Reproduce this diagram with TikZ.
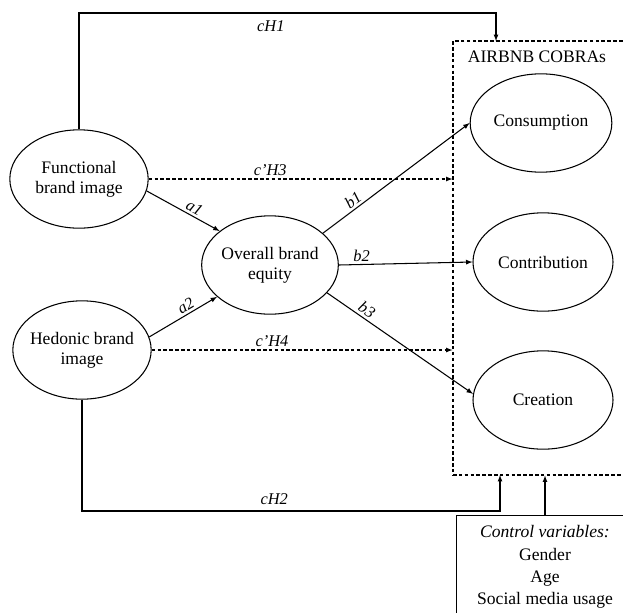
\documentclass[tikz,border=0pt]{standalone}
\usepackage{fontspec}
\setmainfont{Liberation Serif}
\usetikzlibrary{shapes.geometric}
\tikzset{
  construct/.style={draw,ellipse,line width=0.9pt,inner xsep=-4pt,inner ysep=0pt,
    minimum width=4.15cm,minimum height=2.95cm,align=center},
  path/.style={line width=0.9pt,-latex},
  dpath/.style={line width=0.9pt,-latex,dash pattern=on 3pt off 2pt},
  plabel/.style={font=\fontsize{14}{16}\selectfont\itshape,inner sep=2pt}
}
\begin{document}
\begin{tikzpicture}[x=0.03cm,y=-0.03cm,font=\fontsize{15}{17}\selectfont]
\useasboundingbox (0,0) rectangle (623,612);
\clip (0,0) rectangle (623,612);

% constructs
\node[construct] (fbi) at (79,179) {Functional\\brand image};
\node[construct] (hbi) at (82,350) {Hedonic brand\\image};
\node[construct,minimum width=4.1cm] (obe) at (270,265) {Overall brand\\equity};
\node[construct,minimum width=4.25cm] (cons) at (541,123) {Consumption};
\node[construct,minimum width=4.2cm] (contr) at (543,262) {Contribution};
\node[construct,minimum width=4.2cm] (crea) at (543,400) {Creation};

% outcome box and controls
\node[draw,line width=0.9pt,dash pattern=on 3pt off 2pt,minimum width=5.61cm,minimum height=13.02cm] (cobras) at (546.5,258) {};
\node (cobrastitle) at (537,57) {AIRBNB COBRAs};
\node[draw,line width=0.9pt,minimum width=5.3cm,minimum height=3.1cm,align=center,font=\fontsize{15}{19}\selectfont] (ctrl) at (545,567)
  {\textit{Control variables:}\\Gender\\Age\\Social media usage};
\coordinate (h1top) at (0,13);
\coordinate (h1end) at (496,41);
\coordinate (h2bot) at (0,511);
\coordinate (h2end) at (500,475);

% direct effects
\draw[path] (fbi.north) -- (fbi.north |- h1top) -- node[pos=0.46,below=4pt,plabel] (lH1) {cH1} (h1end |- h1top) -- (h1end);
\draw[path] (hbi.south) -- (hbi.south |- h2bot) -- node[pos=0.46,above=3pt,plabel] (lH2) {cH2} (h2end |- h2bot) -- (h2end);
\draw[dpath] (fbi.east) -- node[pos=0.4,above,plabel] (lH3) {c'H3} (fbi.east -| cobras.west);
\draw[dpath] (hbi.east) -- node[pos=0.4,above,plabel] (lH4) {c'H4} (hbi.east -| cobras.west);

% mediation
\draw[path] (fbi.-10) -- node[pos=0.6,sloped,above,plabel] (la1) {a1} (obe.146);
\draw[path] (hbi.11) -- node[pos=0.6,sloped,above,plabel] (la2) {a2} (obe.211);
\draw[path] (obe.31) -- node[pos=0.24,sloped,above,plabel] (lb1) {b1} (cons.west);
\draw[path] (obe.east) -- node[pos=0.17,above,plabel] (lb2) {b2} (contr.west);
\draw[path] (obe.-26) -- node[pos=0.24,sloped,above,plabel] (lb3) {b3} (crea.175);

% controls
\draw[path] (ctrl.north) -- (ctrl.north |- cobras.south);
\end{tikzpicture}
\end{document}
